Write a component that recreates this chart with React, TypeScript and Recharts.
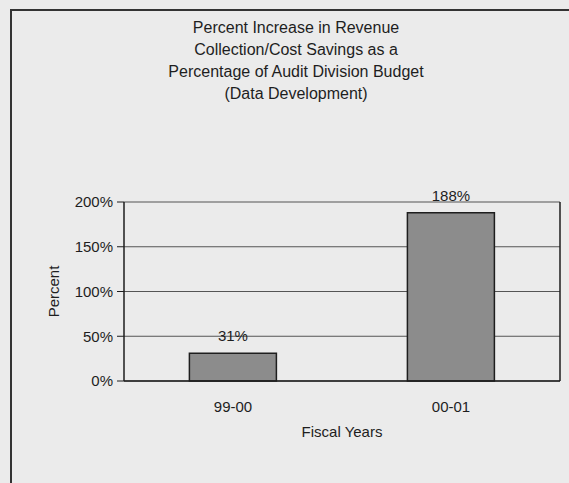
import { BarChart, Bar, XAxis, YAxis, CartesianGrid, LabelList } from 'recharts'

const fiscalYears = ['99-00', '00-01']
const percentIncrease = [31, 188]
const yTicks = [0, 50, 100, 150, 200]
const titleLines = [
  'Percent Increase in Revenue',
  'Collection/Cost Savings as a',
  'Percentage of Audit Division Budget',
  '(Data Development)',
]

const data = fiscalYears.map((year, i) => ({ year, value: percentIncrease[i] }))

const font = '"Liberation Sans", Arial, sans-serif'
const ink = '#1e1e1e'
const textStyle = { fontSize: 15, fill: ink, fontFamily: font }

export default function App() {
  return (
    <div
      style={{
        position: 'absolute',
        left: 0,
        top: 0,
        width: 569,
        height: 483,
        overflow: 'hidden',
        background: '#ebebeb',
        fontFamily: font,
      }}
    >
      <div
        style={{
          position: 'absolute',
          left: 10,
          top: 9,
          width: 620,
          height: 540,
          border: '2px solid #333',
        }}
      />
      <div
        style={{
          position: 'absolute',
          left: 0,
          top: 17,
          width: 592,
          textAlign: 'center',
          fontSize: 16,
          lineHeight: '22px',
          color: ink,
        }}
      >
        {titleLines.map((line) => (
          <div key={line}>{line}</div>
        ))}
      </div>
      <BarChart
        width={569}
        height={483}
        data={data}
        margin={{ top: 202, right: 8, bottom: 0, left: 0 }}
        barCategoryGap="30%"
        style={{ position: 'absolute', left: 0, top: 0 }}
      >
        <CartesianGrid vertical={false} stroke="#555" strokeWidth={1.2} />
        <XAxis
          dataKey="year"
          height={102}
          tickLine={false}
          tickMargin={14}
          axisLine={{ stroke: ink, strokeWidth: 1.5 }}
          tick={textStyle}
          label={{ value: 'Fiscal Years', position: 'center', ...textStyle }}
        />
        <XAxis
          xAxisId="top"
          dataKey="year"
          orientation="top"
          height={0}
          tick={false}
          tickLine={false}
          axisLine={{ stroke: ink, strokeWidth: 1.5 }}
        />
        <YAxis
          width={124}
          domain={[0, 200]}
          ticks={yTicks}
          tickFormatter={(v: number) => `${v}%`}
          tickSize={7}
          tickMargin={4}
          tickLine={{ stroke: ink }}
          axisLine={{ stroke: ink, strokeWidth: 1.5 }}
          tick={textStyle}
          label={{ value: 'Percent', angle: -90, position: 'center', dx: -8, ...textStyle }}
        />
        <YAxis
          yAxisId="right"
          orientation="right"
          width={1}
          domain={[0, 200]}
          tick={false}
          tickLine={false}
          axisLine={{ stroke: ink, strokeWidth: 1.5 }}
        />
        <Bar dataKey="value" fill="#8c8c8c" stroke={ink} strokeWidth={1.5} isAnimationActive={false}>
          <LabelList
            dataKey="value"
            position="top"
            offset={12}
            formatter={(v: any) => `${v}%`}
            style={textStyle}
          />
        </Bar>
      </BarChart>
    </div>
  )
}
